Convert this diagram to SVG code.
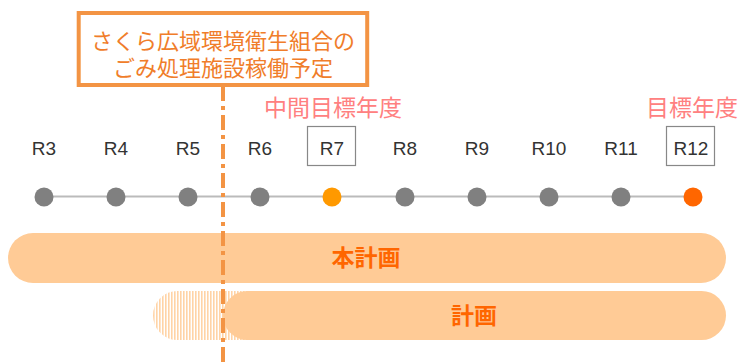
<svg xmlns="http://www.w3.org/2000/svg" width="740" height="362" viewBox="0 0 740 362">
<style>
.yr{font-family:"Liberation Sans","Noto Sans CJK JP",sans-serif;font-size:19px;fill:#333;text-anchor:middle}
.jp{font-family:"Noto Sans CJK JP",sans-serif}
.dot{fill:#808080}
.pink{font-size:23px;fill:#FF8080}
.bar{fill:#FFCB96}
.bartxt{font-size:23px;font-weight:bold;fill:#FF6600;text-anchor:middle}
.ybox{fill:none;stroke:#888;stroke-width:1.2}
</style>
<defs>
<pattern id="hatch" width="3" height="10" patternUnits="userSpaceOnUse">
<rect x="0" y="0" width="1.6" height="10" fill="#FFCB96"/>
</pattern>
</defs>
<g id="bars">
<rect id="bar-main" class="bar" x="8" y="233" width="718" height="50" rx="25"/>
<text class="jp bartxt" x="366" y="266">本計画</text>
<rect id="bar-hatch" x="153" y="291" width="120" height="49" rx="24.5" fill="url(#hatch)" opacity="0.85"/>
<rect id="bar-plan" class="bar" x="223" y="291" width="503" height="49" rx="24.5"/>
<text class="jp bartxt" x="474" y="324">計画</text>
</g>
<g id="connectors">
<line x1="44" y1="196.5" x2="693" y2="196.5" stroke="#BBBBBB" stroke-width="2"/>
<line x1="223" y1="86" x2="223" y2="362" stroke="#F39444" stroke-width="4" stroke-dasharray="15 5 4 5"/>
</g>
<g id="title">
<rect x="78.7" y="13" width="288.5" height="72" fill="#fff" stroke="#F39444" stroke-width="4"/>
<text class="jp" x="223" y="49" font-size="22" fill="#F07D2A" text-anchor="middle">さくら広域環境衛生組合の</text>
<text class="jp" x="223" y="76" font-size="22" fill="#F07D2A" text-anchor="middle">ごみ処理施設稼働予定</text>
</g>
<g id="labels">
<text class="jp pink" x="333" y="116" text-anchor="middle">中間目標年度</text>
<text class="jp pink" x="692" y="116" text-anchor="middle">目標年度</text>
</g>
<g id="years">
<g id="R3"><text class="yr" x="44" y="155">R3</text><circle class="dot" cx="44" cy="197" r="9.5"/></g>
<g id="R4"><text class="yr" x="116" y="155">R4</text><circle class="dot" cx="116" cy="197" r="9.5"/></g>
<g id="R5"><text class="yr" x="188" y="155">R5</text><circle class="dot" cx="188" cy="197" r="9.5"/></g>
<g id="R6"><text class="yr" x="260" y="155">R6</text><circle class="dot" cx="260" cy="197" r="9.5"/></g>
<g id="R7"><rect class="ybox" x="307.5" y="126.5" width="48" height="39"/><text class="yr" x="332" y="155">R7</text><circle cx="332" cy="197" r="9.5" fill="#FF9900"/></g>
<g id="R8"><text class="yr" x="405" y="155">R8</text><circle class="dot" cx="405" cy="197" r="9.5"/></g>
<g id="R9"><text class="yr" x="477" y="155">R9</text><circle class="dot" cx="477" cy="197" r="9.5"/></g>
<g id="R10"><text class="yr" x="549" y="155">R10</text><circle class="dot" cx="549" cy="197" r="9.5"/></g>
<g id="R11"><text class="yr" x="621" y="155">R11</text><circle class="dot" cx="621" cy="197" r="9.5"/></g>
<g id="R12"><rect class="ybox" x="666.5" y="126.5" width="48" height="39"/><text class="yr" x="691" y="155">R12</text><circle cx="693" cy="197" r="9.5" fill="#FF6600"/></g>
</g>
</svg>
